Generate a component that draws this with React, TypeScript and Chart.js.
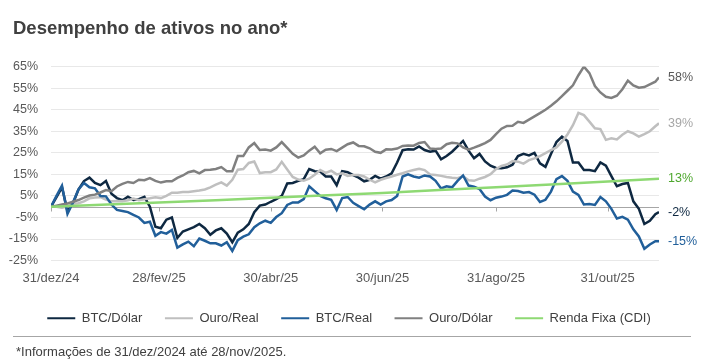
import React, { useEffect, useRef } from 'react';
import { Chart, registerables } from 'chart.js';

Chart.register(...registerables);

const FONT = "'Liberation Sans', Arial, sans-serif";

const titleText = 'Desempenho de ativos no ano*';
const footnoteText = '*Informações de 31/dez/2024 até 28/nov/2025.';

const seriesLabels = ['BTC/Dólar', 'Ouro/Real', 'BTC/Real', 'Ouro/Dólar', 'Renda Fixa (CDI)'];
const seriesColors = ['#0e2841', '#bfbfbf', '#215f9a', '#808080', '#8ed973'];
const endLabels = ['-2%', '39%', '-15%', '58%', '13%'];
const endLabelColors = ['#0e2841', '#a6a6a6', '#215f9a', '#595959', '#4ea72e'];

// x axis: days since 31/dez/2024
const xTickDays = [0, 59, 120, 181, 243, 304];
const xTickLabels = ['31/dez/24', '28/fev/25', '30/abr/25', '30/jun/25', '31/ago/25', '31/out/25'];
const yTickValues = [-25, -15, -5, 5, 15, 25, 35, 45, 55, 65];
const yTickLabels = ['-25%', '-15%', '-5%', '5%', '15%', '25%', '35%', '45%', '55%', '65%'];

const sampleDays = [
  0, 3, 6, 9, 12, 15, 18, 21, 24, 27,
  30, 33, 36, 39, 42, 45, 48, 51, 54, 57,
  60, 63, 66, 69, 72, 75, 78, 81, 84, 87,
  90, 93, 96, 99, 102, 105, 108, 111, 114, 117,
  120, 123, 126, 129, 132, 135, 138, 141, 144, 147,
  150, 153, 156, 159, 162, 165, 168, 171, 174, 177,
  180, 183, 186, 189, 192, 195, 198, 201, 204, 207,
  210, 213, 216, 219, 222, 225, 228, 231, 234, 237,
  240, 243, 246, 249, 252, 255, 258, 261, 264, 267,
  270, 273, 276, 279, 282, 285, 288, 291, 294, 297,
  300, 303, 306, 309, 312, 315, 318, 321, 324, 327,
  330, 332,
];

const btcUsd = [
  0, 4.5, 9, -2, 1.5, 8, 11.9, 13.5, 11, 10,
  11.9, 6, 4, 3, 4.6, 3.1, 3.5, 4.6, 0, -9.3,
  -10, -6, -5, -14.5, -11.5, -10.5, -9.5, -8, -10, -13,
  -11, -10, -12.5, -16.5, -12, -10.5, -8, -2.5, 0.5, 1,
  2.3, 3.5, 5, 10.8, 11, 12, 12.8, 17.5, 16.5, 16.3,
  14, 14, 10, 16.5, 16, 14.7, 13.5, 11.8, 12.5, 14.3,
  13, 14, 15.5, 20.5, 26.2, 26.6, 26.5, 28, 26.3, 25.5,
  26, 22, 23.5, 25.5, 28, 30.5, 26, 22.5, 24.5, 21,
  19, 18, 17.8, 18.3, 19.5, 23.5, 24.5, 23.8, 25, 20.1,
  18.5, 24.5, 30, 32.5, 30.5, 20.5, 20.5, 17, 17, 16.5,
  20.5, 19, 14.2, 9.5, 10.5, 11, 2.5, -1, -8, -6.5,
  -3.5, -2.5,
];

const ouroBrl = [
  0, 0, -0.5, 0.2, 1.4, 1.6, 2.5, 3.9, 4.3, 4.4,
  3.3, 2.5, 2.6, 2.5, 3, 3.8, 3, 3.5, 3.9, 4.4,
  4, 5, 6.5, 6.5, 6.8, 6.8, 7.2, 7.5, 8, 9,
  10.2, 11.3, 9.8, 12.5, 17.2, 17.5, 20.3, 21, 15.6, 16,
  16, 17.3, 20.8, 17.3, 13.8, 12.6, 12.1, 13, 14.8, 17,
  15.7, 16.7, 15, 15.5, 14.3, 14.7, 14.7, 14, 12.5, 11.3,
  12.5, 13.3, 14, 14.8, 15.5, 16.4, 17, 17.6, 17, 15,
  14.7, 14.3, 13.8, 13.4, 13.2, 14.2, 12.3, 12, 13, 13.8,
  15.1, 17.5, 18.9, 19.6, 21.2, 20.9, 20, 21.6, 22.4, 23.5,
  24.9, 26.2, 27.5, 30.2, 33.5, 37.8, 43.5, 42.5, 39.5, 36.4,
  36, 31, 31.7, 31.2, 33.4, 35, 34, 32.5, 33.7, 35,
  37.3, 38.7,
];

const btcBrl = [
  0, 5, 9.8, -3.3, 2, 8, 11, 9, 8.5, 5,
  4.8, 1, -1.5, -2, -2.5, -3.8, -5, -7.5, -7, -13.5,
  -11.8, -12.5, -10.8, -19, -17.5, -16.2, -18.3, -14.8, -15.8, -17,
  -17, -18, -16.5, -20.5, -15.5, -13.9, -12.8, -9.5, -7.7, -6.5,
  -7.5, -4.8, -3, 0.8, 2, 2, 3.5, 9.5, 7.2, 5,
  3.9, 3.2, -1.5, 4, 4.5, 1.8, 0.3, -1.2, 1, 2.5,
  1, 2.5, 3.1, 5, 14, 15, 14, 13.5, 14.5, 14,
  12, 8.5, 9.5, 9, 12, 14.5, 9.8, 9.3, 8.2, 4.7,
  3, 4.2, 4.7, 5.5, 7.5, 7.3, 6.5, 6.8, 5.6, 2.2,
  3.2, 7, 12.8, 14.2, 12, 7, 5.5, 1, 1.2, 0.8,
  4.5, 2.5, -1, -5.5, -4.7, -6, -10.5, -13.8, -19.5, -17.5,
  -16, -16,
];

const ouroUsd = [
  0, 0.5, 1, 1.5, 2.3, 3.1, 4.2, 5.2, 5.6, 6.6,
  7.7, 7.2, 9.4, 10.6, 11.5, 11, 12.5, 12.3, 13.3, 12,
  11.2, 11.8, 11.8, 13.4, 14.5, 16, 16.6, 15.5, 17, 17.1,
  17.5, 18.4, 16.5, 16.5, 23.5, 23.5, 27.5, 29.5, 26.3, 26.5,
  26, 27.5, 30, 27.3, 24.5, 22.8, 23.8, 26, 27.8, 24.8,
  26.4, 26.8, 25.8, 27.4, 29, 29.8, 28.2, 28, 27.1, 25.5,
  25, 26.6, 26.5, 27, 28.2, 28.4, 28.3, 29.6, 30, 27,
  26.8, 27, 29, 29.7, 29.4, 27.5, 26.5, 27.4, 28.4, 29.5,
  31, 33.7, 36.2, 37.5, 37.6, 39.4, 38.9, 40.4, 41.9, 43.4,
  45, 46.8, 48.9, 51.3, 53.8, 56.3, 61, 65, 62, 56,
  53, 51, 50.5, 51.5, 54.5, 58.5, 56.3, 55.2, 55.5, 56.8,
  58, 60,
];

const cdiDays = [0, 31, 59, 90, 120, 151, 181, 212, 243, 273, 304, 332];
const cdi = [0, 1.0, 2.0, 3.0, 4.1, 5.3, 6.4, 7.8, 9.0, 10.3, 11.7, 13.0];

const seriesValues = [btcUsd, ouroBrl, btcBrl, ouroUsd];

const decorPlugin = {
  id: 'decor',
  beforeDatasetsDraw(chart: any) {
    const { ctx, chartArea, scales } = chart;
    const y0 = Math.round(scales.y.getPixelForValue(0)) + 0.5;
    ctx.save();
    ctx.strokeStyle = '#a6a6a6';
    ctx.lineWidth = 1;
    ctx.beginPath();
    ctx.moveTo(chartArea.left, y0);
    ctx.lineTo(chartArea.right, y0);
    xTickDays.forEach((d) => {
      const x = Math.round(scales.x.getPixelForValue(d)) + 0.5;
      ctx.moveTo(x, y0);
      ctx.lineTo(x, y0 + 4);
    });
    ctx.stroke();
    // y-axis tick labels
    ctx.font = `12.5px ${FONT}`;
    ctx.fillStyle = '#595959';
    ctx.textAlign = 'right';
    ctx.textBaseline = 'middle';
    yTickValues.forEach((v, i) => {
      ctx.fillText(yTickLabels[i], chartArea.left - 13, scales.y.getPixelForValue(v));
    });
    ctx.restore();
  },
  afterDatasetsDraw(chart: any) {
    const { ctx, chartArea, scales } = chart;
    ctx.save();
    ctx.font = `12.5px ${FONT}`;
    ctx.textAlign = 'left';
    ctx.textBaseline = 'middle';
    chart.data.datasets.forEach((ds: any, i: number) => {
      const last = ds.data[ds.data.length - 1];
      ctx.fillStyle = endLabelColors[i];
      ctx.fillText(endLabels[i], chartArea.right + 9, scales.y.getPixelForValue(last.y));
    });
    ctx.restore();
  },
  afterDraw(chart: any) {
    const { ctx, width } = chart;
    ctx.save();
    ctx.fillStyle = '#404040';
    ctx.textAlign = 'left';
    ctx.textBaseline = 'middle';
    ctx.font = `bold 18.5px ${FONT}`;
    ctx.fillText(titleText, 13, 29);
    ctx.strokeStyle = '#a6a6a6';
    ctx.lineWidth = 1;
    ctx.beginPath();
    ctx.moveTo(13, 336.5);
    ctx.lineTo(width - 13, 336.5);
    ctx.stroke();
    ctx.font = `13px ${FONT}`;
    ctx.fillText(footnoteText, 16, 352);
    ctx.restore();
  },
};

export default function App() {
  const canvasRef = useRef<HTMLCanvasElement | null>(null);

  useEffect(() => {
    if (!canvasRef.current) return;
    Chart.defaults.font.family = FONT;
    const datasets: any[] = seriesValues.map((vals, i) => ({
      label: seriesLabels[i],
      data: sampleDays.map((d, j) => ({ x: d, y: vals[j] })),
      borderColor: seriesColors[i],
      backgroundColor: seriesColors[i],
      borderWidth: 2.5,
      pointRadius: 0,
      tension: 0,
      fill: false,
      order: 5 - i,
    }));
    datasets.push({
      label: seriesLabels[4],
      data: cdiDays.map((d, j) => ({ x: d, y: cdi[j] })),
      borderColor: seriesColors[4],
      backgroundColor: seriesColors[4],
      borderWidth: 2.5,
      pointRadius: 0,
      tension: 0,
      fill: false,
      order: 0,
    });

    const chart = new Chart(canvasRef.current, {
      type: 'line',
      data: { datasets },
      plugins: [decorPlugin],
      options: {
        animation: false,
        responsive: true,
        maintainAspectRatio: false,
        events: [],
        layout: { padding: { left: 4, right: 10, top: 66.6, bottom: 29.2 } },
        scales: {
          x: {
            type: 'linear',
            min: 0,
            max: 332,
            position: 'bottom',
            grid: { display: false, drawTicks: false },
            border: { display: false },
            afterBuildTicks: (scale: any) => {
              scale.ticks = xTickDays.map((v) => ({ value: v }));
            },
            afterFit: (scale: any) => {
              scale.height = 28.7;
            },
            ticks: {
              autoSkip: false,
              maxRotation: 0,
              minRotation: 0,
              padding: 10,
              color: '#595959',
              font: { size: 13, family: FONT },
              callback: (_v: any, idx: number) => xTickLabels[idx],
            },
          },
          y: {
            type: 'linear',
            position: 'left',
            min: -25,
            max: 65,
            grid: { color: '#e8e8e8', lineWidth: 1, drawTicks: false },
            border: { display: false },
            afterBuildTicks: (scale: any) => {
              scale.ticks = yTickValues.map((v) => ({ value: v }));
            },
            afterFit: (scale: any) => {
              scale.width = 47;
            },
            ticks: { display: false, autoSkip: false },
          },
          y2: {
            type: 'linear',
            position: 'right',
            display: true,
            grid: { display: false, drawTicks: false },
            border: { display: false },
            ticks: { display: false },
            afterFit: (scale: any) => {
              scale.width = 35;
            },
          },
        },
        plugins: {
          title: { display: false },
          tooltip: { enabled: false },
          legend: {
            display: true,
            position: 'bottom',
            align: 'center',
            labels: {
              boxWidth: 28,
              boxHeight: 2,
              padding: 22.5,
              color: '#404040',
              font: { size: 13, family: FONT },
              generateLabels: (c: any) =>
                c.data.datasets.map((ds: any, i: number) => ({
                  text: ds.label,
                  fillStyle: ds.borderColor,
                  strokeStyle: ds.borderColor,
                  lineWidth: 0,
                  hidden: false,
                  datasetIndex: i,
                  fontColor: '#404040',
                })),
            },
          },
        },
      },
    });
    return () => chart.destroy();
  }, []);

  return (
    <div style={{ position: 'absolute', left: 0, top: 0, width: 704, height: 364, background: '#ffffff' }}>
      <canvas ref={canvasRef} />
    </div>
  );
}
